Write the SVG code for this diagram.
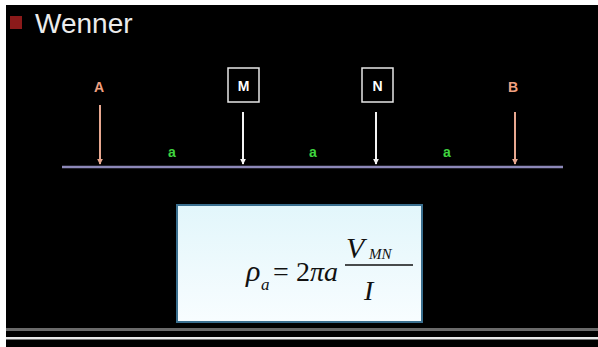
<svg xmlns="http://www.w3.org/2000/svg" width="598" height="347" viewBox="0 0 598 347">
<defs>
<style>
.lbl{font-family:"Liberation Sans",Arial,sans-serif;font-weight:bold;font-size:14px;text-anchor:middle}
.cur{fill:#f0a080}
.pot{fill:#ffffff}
.sp{font-family:"Liberation Sans",Arial,sans-serif;font-weight:bold;font-size:14px;fill:#3fd43f;text-anchor:middle}
.box{fill:none;stroke:#e8e8e8;stroke-width:1.5}
.fx{font-family:"Liberation Serif","Times New Roman",serif;font-style:italic;fill:#111}
.fr{font-family:"Liberation Serif","Times New Roman",serif;fill:#111}
</style>
<marker id="ahW" viewBox="0 0 8 8" refX="7" refY="4" markerWidth="6" markerHeight="6" orient="auto" markerUnits="userSpaceOnUse">
<path d="M0,0 L8,4 L0,8 z" fill="#f4f4f4"/>
</marker>
<marker id="ahS" viewBox="0 0 8 8" refX="7" refY="4" markerWidth="6" markerHeight="6" orient="auto" markerUnits="userSpaceOnUse">
<path d="M0,0 L8,4 L0,8 z" fill="#e8a890"/>
</marker>
<linearGradient id="bg" x1="0" y1="0" x2="0" y2="1">
<stop offset="0" stop-color="#e2f6fb"/>
<stop offset="1" stop-color="#f8fdff"/>
</linearGradient>
</defs>
<rect x="0" y="0" width="598" height="347" fill="#ffffff"/>
<rect x="6" y="5" width="592" height="342" fill="#000000"/>
<rect x="6" y="328" width="592" height="3" fill="#6a6a6a"/>
<rect x="6" y="337" width="592" height="2.5" fill="#e8e8e8"/>

<g id="title">
<rect x="10" y="16" width="12" height="13" fill="#8b1a1a"/>
<text x="35" y="33" font-family="Liberation Sans,Arial,sans-serif" font-size="28" fill="#ececec">Wenner</text>
</g>

<g id="connectors">
<line id="ground" x1="62" y1="167" x2="563" y2="167" stroke="#8c88b8" stroke-width="2.5"/>
<line x1="100" y1="105" x2="100" y2="164" stroke="#e8a890" stroke-width="2" marker-end="url(#ahS)"/>
<line x1="243" y1="112" x2="243" y2="164" stroke="#f4f4f4" stroke-width="2" marker-end="url(#ahW)"/>
<line x1="376" y1="112" x2="376" y2="164" stroke="#f4f4f4" stroke-width="2" marker-end="url(#ahW)"/>
<line x1="515" y1="112" x2="515" y2="164" stroke="#e8a890" stroke-width="2" marker-end="url(#ahS)"/>
</g>

<g id="electrode-A"><text class="lbl cur" x="99" y="92">A</text></g>
<g id="electrode-M"><rect class="box" x="228" y="68" width="31" height="34"/><text class="lbl pot" x="243.5" y="91">M</text></g>
<g id="electrode-N"><rect class="box" x="362" y="68" width="31" height="34"/><text class="lbl pot" x="377.5" y="91">N</text></g>
<g id="electrode-B"><text class="lbl cur" x="513" y="92">B</text></g>

<g id="spacings">
<text class="sp" x="172" y="157">a</text>
<text class="sp" x="313" y="157">a</text>
<text class="sp" x="447" y="157">a</text>
</g>

<g id="formula">
<rect x="177" y="205" width="245" height="117" fill="url(#bg)" stroke="#3a6f8f" stroke-width="2"/>
<text class="fx" x="246" y="281" font-size="30">ρ</text>
<text class="fx" x="261" y="290" font-size="17">a</text>
<text class="fr" x="273" y="281" font-size="28">=</text>
<text class="fr" x="296" y="281" font-size="28">2</text>
<text class="fx" x="310" y="281" font-size="28">πa</text>
<line x1="345" y1="265" x2="413" y2="265" stroke="#111" stroke-width="1.5"/>
<text class="fx" x="346" y="258" font-size="30">V</text>
<text class="fx" x="369" y="259" font-size="15">MN</text>
<text class="fx" x="364" y="300" font-size="28">I</text>
</g>
</svg>
